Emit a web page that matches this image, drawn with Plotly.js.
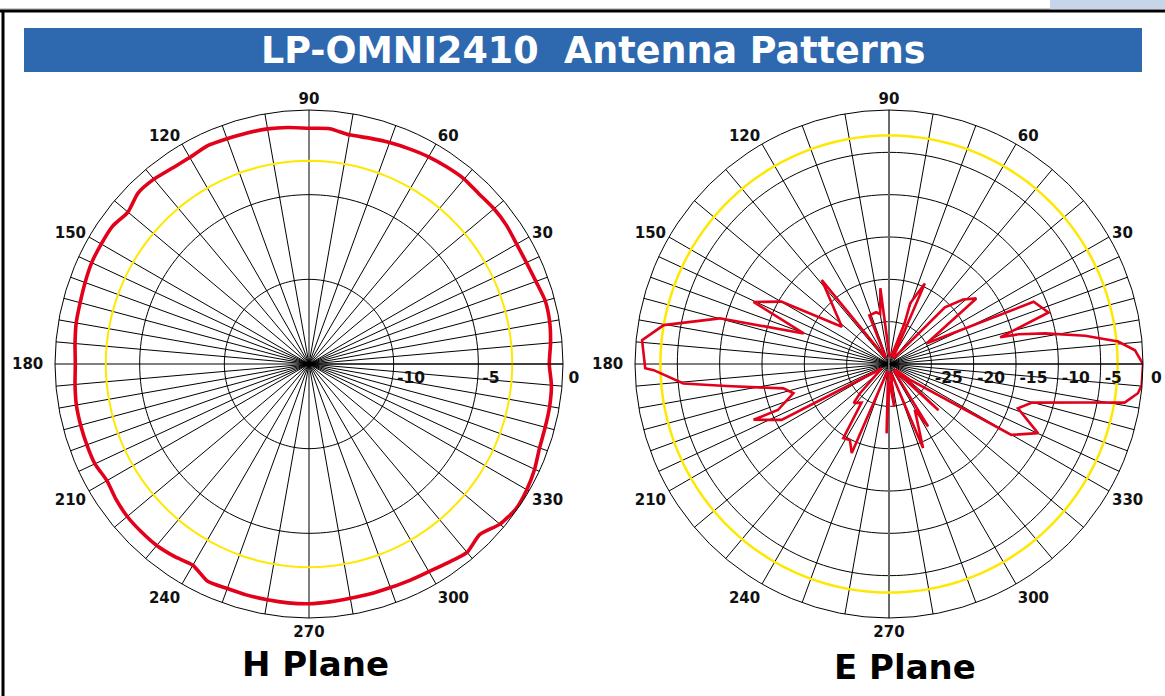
<!DOCTYPE html>
<html>
<head>
<meta charset="utf-8">
<script src="https://cdn.plot.ly/plotly-3.0.1.min.js"></script>
<style>
html,body{margin:0;padding:0;background:#ffffff;}
#chart{width:1165px;height:696px;}
</style>
</head>
<body>
<div id="chart"></div>
<script>
// ---------- data ----------
const chartTitle = "LP-OMNI2410\u00a0 Antenna Patterns";
const planeNames = ["H Plane", "E Plane"];

// H plane (azimuth) pattern, dB
const hAngle = [0,5,10,15,20,25,30,35,40,45,50,55,60,65,70,75,80,85,90,95,100,105,110,115,120,125,130,135,140,145,150,155,160,165,170,175,180,185,190,195,200,205,210,215,220,225,230,235,240,245,250,255,260,265,270,275,280,285,290,295,300,305,310,315,320,325,330,335,340,345,350,355,360];
const hGain  = [-0.81,-0.68,-0.57,-0.56,-0.74,-0.83,-0.84,-0.75,-0.74,-0.80,-0.74,-0.80,-0.87,-0.98,-1.08,-1.19,-1.26,-1.05,-1.08,-0.98,-0.90,-0.87,-0.84,-0.78,-0.92,-0.89,-0.75,-0.72,-1.04,-0.83,-0.83,-0.84,-0.93,-1.01,-1.04,-1.13,-1.20,-1.13,-1.05,-1.04,-1.04,-1.05,-1.22,-1.08,-0.99,-0.99,-1.01,-1.13,-1.28,-0.84,-0.89,-0.87,-0.86,-0.84,-0.84,-0.90,-0.95,-0.95,-0.95,-0.90,-0.84,-0.68,-0.48,-0.75,-0.29,-0.08,-0.15,-0.30,-0.51,-0.56,-0.57,-0.63,-0.81];

// E plane (elevation) pattern, dB
const eAngle = [0,3.2,5.6,8.2,11.1,12.9,13.5,17.9,23.3,28.7,36.9,41,45.4,50,58,66,70.8,69,73,88,96.5,100,104,112,116,121,128.7,141.7,149.9,155.4,160.3,164.9,170.2,174.5,181,181.5,185.4,187.7,193,197,202.5,202.4,207.5,212,220,225.3,227.8,234.6,238.4,242.8,247.3,256,264,268,271,277,281,288,292.1,299.4,302.1,306,313,317,320,323,329.9,335.1,341,344.9,348.9,350.7,353.3,355.2,360];
const eGain  = [0,-0.9,-2.8,-6.6,-11.2,-14.3,-16.5,-10.2,-11.4,-24.9,-17.1,-18.4,-20.6,-29,-29,-19.6,-22.4,-24.8,-29,-29,-21,-24,-23.7,-23.8,-29,-29,-17.3,-22.9,-15.3,-12.4,-19.3,-9.3,-3,-0.7,-1.2,-2.2,-5.6,-10.6,-17.2,-18.2,-15.8,-12.7,-15.7,-29,-28,-25.1,-23.8,-24.4,-19.7,-19.9,-18.6,-29,-29,-21.8,-28,-24.9,-29,-28,-19.3,-23.8,-21.3,-29,-29,-22,-29,-27,-13.3,-10.6,-13.9,-12.5,-6.4,-1.8,-0.4,-0.05,0];

// -3 dB reference level
const refLevel = -3;

// angular grid (spokes) and labels
const spokeAngles = [0,5,10,15,20,25,30,40,50,60,70,80,90,100,110,120,130,140,150,155,160,165,170,175,180,185,190,195,200,205,210,220,230,240,250,260,270,280,290,300,310,320,330,335,340,345,350,355];
const labeledAngles = [30,60,90,120,150,180,210,240,270,300,330];
// E plane vertical axis (90°/270°) drawn in grey
const eVerticalAxis = [90, 270];

// radial scales
const hRange = [-15, 0];
const hTicks = [-10, -5, 0];
const eRange = [-30, 0];
const eTicks = [-25, -20, -15, -10, -5, 0];

// ---------- build ----------
const W = 1165, H = 696;
const RADIUS_PX = 254;
const px = x => x / W;
const py = y => 1 - y / H;
const nb = n => "\u00a0".repeat(n);

const spokeText = spokeAngles.map(a => a === 180 ? String(a) + nb(1) + "\u2009" : (labeledAngles.includes(a) ? String(a) : ""));

// radial labels sit just outside their ring, below the 0° line
function labelVals(ticks, range, gapPx, fs) {
  const perUnit = RADIUS_PX / (range[1] - range[0]);
  return ticks.map(v => v === 0 ? 0 : v + (gapPx + 0.31 * fs * String(v).length) / perUnit);
}
function labelText(ticks, zeroPad) {
  return ticks.map(v => v === 0 ? nb(zeroPad) + "0" : String(v));
}

const refTheta = [];
for (let a = 0; a <= 360; a += 2) refTheta.push(a);

const red = "#E2001A";
const yellow = "#FFE800";
const fontFam = "DejaVu Sans, Verdana, sans-serif";

function polarCfg(domX, range, ticks, gapPx, zeroPad, fs) {
  return {
    domain: {x: domX, y: [78 / H, 586 / H]},
    bgcolor: "#ffffff",
    hole: 0,
    angularaxis: {
      rotation: 0,
      direction: "counterclockwise",
      tickmode: "array",
      tickvals: spokeAngles,
      ticktext: spokeText,
      ticks: "",
      showgrid: true,
      gridcolor: "#000000",
      gridwidth: 1,
      showline: true,
      linecolor: "#000000",
      linewidth: 1,
      tickfont: {family: fontFam, size: 15, color: "#111111", weight: "bold"}
    },
    radialaxis: {
      range: range,
      angle: 0,
      side: "clockwise",
      tickmode: "array",
      tickvals: labelVals(ticks, range, gapPx, fs),
      ticktext: labelText(ticks, zeroPad),
      tickangle: 0,
      ticks: "",
      ticklen: 0,
      showline: true,
      linecolor: "#000000",
      linewidth: 1,
      showgrid: false,
      tickfont: {family: fontFam, size: fs, color: "#111111", weight: "bold"}
    }
  };
}

function ringTraces(ticks, subplot) {
  return ticks.filter(v => v !== 0).map(v => ({
    type: "scatterpolar", mode: "lines", subplot: subplot,
    theta: refTheta, r: refTheta.map(() => v),
    line: {color: "#000000", width: 1}, hoverinfo: "skip"
  }));
}

const traces = [
  ...ringTraces(hTicks, "polar"),
  {type: "scatterpolar", mode: "lines", subplot: "polar", theta: refTheta, r: refTheta.map(() => refLevel), line: {color: yellow, width: 2}, hoverinfo: "skip"},
  {type: "scatterpolar", mode: "lines", subplot: "polar", theta: hAngle, r: hGain, line: {color: red, width: 3.6, shape: "spline", smoothing: 0.6}, name: planeNames[0]},
  ...ringTraces(eTicks, "polar2"),
  {type: "scatterpolar", mode: "lines", subplot: "polar2",
   theta: [eVerticalAxis[0], eVerticalAxis[0], eVerticalAxis[1]], r: [eRange[1], eRange[0], eRange[1]],
   line: {color: "#6a6a6a", width: 2}, hoverinfo: "skip"},
  {type: "scatterpolar", mode: "lines", subplot: "polar2", theta: refTheta, r: refTheta.map(() => refLevel), line: {color: yellow, width: 2.5}, hoverinfo: "skip"},
  {type: "scatterpolar", mode: "lines", subplot: "polar2", theta: eAngle, r: eGain, line: {color: red, width: 2.6}, name: planeNames[1]}
];

const layout = {
  width: W, height: H,
  margin: {l: 0, r: 0, t: 0, b: 0},
  paper_bgcolor: "#ffffff",
  showlegend: false,
  polar: polarCfg([px(55), px(563)], hRange, hTicks, 3, 4, 15.5),
  polar2: polarCfg([px(635), px(1143)], eRange, eTicks, 3, 5, 15.5),
  shapes: [
    {type: "rect", xref: "paper", yref: "paper", x0: px(1050), x1: px(1165), y0: py(0), y1: py(9), fillcolor: "#C6D5E8", line: {width: 0}, layer: "below"},
    {type: "line", xref: "paper", yref: "paper", x0: 0, x1: px(1050), y0: py(9), y1: py(9), line: {color: "#9a9a9a", width: 1}},
    {type: "line", xref: "paper", yref: "paper", x0: 0, x1: 1, y0: py(11), y1: py(11), line: {color: "#000000", width: 3}},
    {type: "line", xref: "paper", yref: "paper", x0: px(3), x1: px(3), y0: py(10), y1: 0, line: {color: "#000000", width: 3}},
    {type: "rect", xref: "paper", yref: "paper", x0: px(24), x1: px(1142), y0: py(28), y1: py(72), fillcolor: "#2E68AE", line: {width: 0}, layer: "below"}
  ],
  annotations: [
    {xref: "paper", yref: "paper", x: px(593), y: py(50), xanchor: "center", yanchor: "middle", showarrow: false, text: chartTitle, font: {family: fontFam, size: 36.5, color: "#ffffff", weight: "bold"}},
    {xref: "paper", yref: "paper", x: px(315), y: py(664), xanchor: "center", yanchor: "middle", showarrow: false, text: planeNames[0], font: {family: fontFam, size: 34, color: "#000000", weight: "bold"}},
    {xref: "paper", yref: "paper", x: px(905), y: py(667), xanchor: "center", yanchor: "middle", showarrow: false, text: planeNames[1], font: {family: fontFam, size: 34, color: "#000000", weight: "bold"}}
  ]
};

Plotly.newPlot("chart", traces, layout, {staticPlot: true, displayModeBar: false});
</script>
</body>
</html>
